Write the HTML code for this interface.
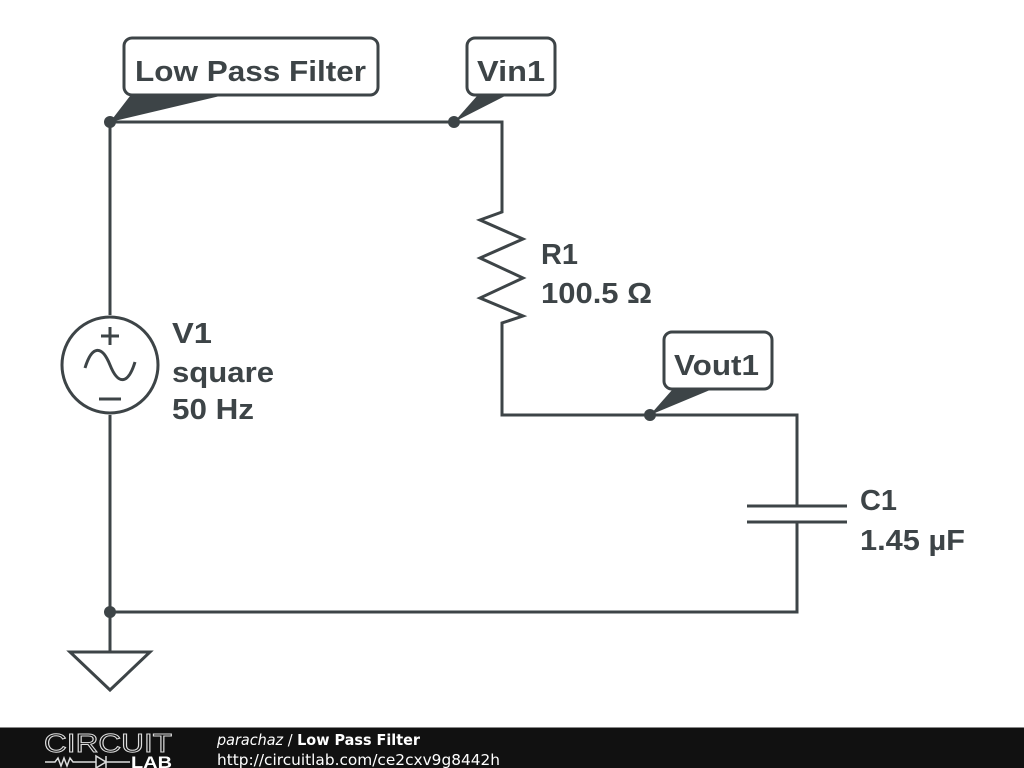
<!DOCTYPE html>
<html><head><meta charset="utf-8"><style>
html,body{margin:0;padding:0;background:#fff;}
body{width:1024px;height:768px;overflow:hidden;position:relative;}
</style></head><body>
<svg width="1024" height="768" viewBox="0 0 1024 768" xmlns="http://www.w3.org/2000/svg" style="position:absolute;left:0;top:0">
<g stroke="#3d4447" stroke-width="3" fill="none" stroke-linejoin="miter">
<polyline points="110,315 110,122 502,122 502,212 480,220 523,239 480,258 523,278 480,298 523,316 502,323 502,415 797,415 797,506"/>
<line x1="747" y1="506" x2="847" y2="506"/>
<line x1="747" y1="522" x2="847" y2="522"/>
<polyline points="797,522 797,612 110,612"/>
<line x1="110" y1="415" x2="110" y2="652"/>
<polygon points="70,652 150,652 110,690"/>
<circle cx="110" cy="365" r="48"/>
<line x1="110" y1="327" x2="110" y2="345"/><line x1="101" y1="336" x2="119" y2="336"/>
<line x1="99" y1="399" x2="121" y2="399"/>
<path d="M85,368 C92,345 102,345 110,365 C118,385 128,385 135,362"/>
<rect x="124" y="38" width="254" height="57" rx="8" fill="#fff"/>
<rect x="467" y="38" width="88" height="57" rx="8" fill="#fff"/>
<rect x="664" y="332" width="108" height="57" rx="8" fill="#fff"/>
</g>
<g fill="#3d4447">
<circle cx="110" cy="122" r="6"/><circle cx="454" cy="122" r="6"/><circle cx="650" cy="415" r="6"/><circle cx="110" cy="612" r="6"/>
<polygon points="110,122 130,96 220,96"/>
<polygon points="454,122 477,96 505,96"/>
<polygon points="650,415 672,390 710,390"/>
</g>
<g font-family="'Liberation Sans', Arial, sans-serif" font-weight="bold" font-size="29" fill="#3d4447" lengthAdjust="spacingAndGlyphs">
<text x="135" y="81" textLength="231" lengthAdjust="spacingAndGlyphs">Low Pass Filter</text>
<text x="477" y="81" textLength="68" lengthAdjust="spacingAndGlyphs">Vin1</text>
<text x="674" y="375" textLength="85" lengthAdjust="spacingAndGlyphs">Vout1</text>
<text x="541" y="264" textLength="37" lengthAdjust="spacingAndGlyphs">R1</text>
<text x="541" y="303" textLength="111" lengthAdjust="spacingAndGlyphs">100.5 Ω</text>
<text x="172" y="343" textLength="40" lengthAdjust="spacingAndGlyphs">V1</text>
<text x="172" y="382" textLength="102" lengthAdjust="spacingAndGlyphs">square</text>
<text x="172" y="419" textLength="82" lengthAdjust="spacingAndGlyphs">50 Hz</text>
<text x="860" y="510" textLength="37" lengthAdjust="spacingAndGlyphs">C1</text>
<text x="860" y="550" textLength="105" lengthAdjust="spacingAndGlyphs">1.45 µF</text>
</g>
<rect x="0" y="727" width="1024" height="41" fill="#111"/>
<line x1="0" y1="727.5" x2="1024" y2="727.5" stroke="#888" stroke-width="1"/>
<text x="44" y="752" font-family="'Liberation Sans', sans-serif" font-size="26" fill="none" stroke="#ddd" stroke-width="1" textLength="128" lengthAdjust="spacingAndGlyphs">CIRCUIT</text>
<path d="M45,762 H55 l3,-4 3,8 3,-8 3,8 3,-8 3,4 H96 M96,756 v12 l10,-6 z M106,756 v12 M106,762 H130" stroke="#ddd" stroke-width="1.5" fill="none"/>
<text x="131" y="768" font-family="'Liberation Sans', sans-serif" font-weight="bold" font-size="17" fill="#fff" textLength="41" lengthAdjust="spacingAndGlyphs">LAB</text>
<text x="217" y="745" font-family="'DejaVu Sans', sans-serif" font-size="15" fill="#fff" textLength="203" lengthAdjust="spacingAndGlyphs"><tspan font-style="italic">parachaz</tspan> / <tspan font-weight="bold">Low Pass Filter</tspan></text>
<text x="217" y="765" font-family="'DejaVu Sans', sans-serif" font-size="15" fill="#fff" textLength="283" lengthAdjust="spacingAndGlyphs">http://circuitlab.com/ce2cxv9g8442h</text>
</svg>
</body></html>
